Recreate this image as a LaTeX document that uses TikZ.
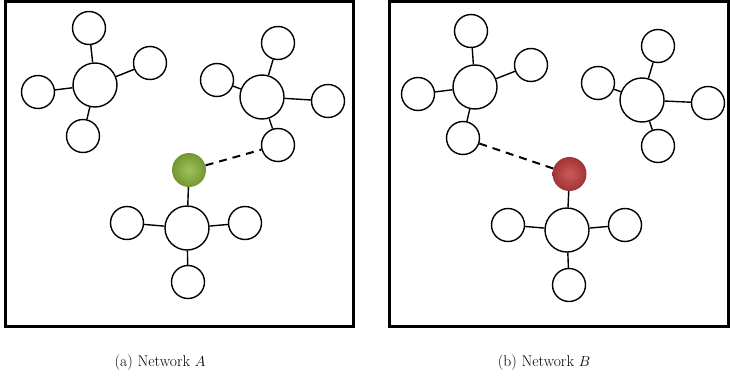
\documentclass[tikz,border=0pt]{standalone}
\usetikzlibrary{shadings}
\definecolor{greenball}{RGB}{160,195,90}
\definecolor{greendark}{RGB}{115,150,50}
\definecolor{redball}{RGB}{205,90,90}
\definecolor{reddark}{RGB}{160,52,52}
\begin{document}
\begin{tikzpicture}[x=1pt,y=-1pt,
  big/.style={circle,draw=black,line width=1.4pt,fill=white,minimum size=44pt,inner sep=0pt},
  small/.style={circle,draw=black,line width=1.4pt,fill=white,minimum size=33pt,inner sep=0pt},
  gball/.style={circle,minimum size=34pt,inner sep=0pt,inner color=greenball,outer color=greendark},
  rball/.style={circle,minimum size=34pt,inner sep=0pt,inner color=redball,outer color=reddark},
  link/.style={line width=1.4pt},
  dashlink/.style={line width=2pt,dash pattern=on 8pt off 6pt},
  panelframe/.style={draw=black,line width=3pt},
  captext/.style={font=\fontsize{15.6}{18}\selectfont}]
\useasboundingbox (0,0) rectangle (730,380);
% frames
\draw[panelframe] (5,1.5) rectangle (353.5,326.5);
\draw[panelframe] (389,1.5) rectangle (728.5,326.5);
% ---- Panel A ----
\node[big] (a1) at (95,85) {};
\node[small] (a1t) at (89,28) {};
\node[small] (a1r) at (150,63) {};
\node[small] (a1l) at (38,92) {};
\node[small] (a1b) at (83,136) {};
\node[big] (a2) at (262,97) {};
\node[small] (a2t) at (278,43) {};
\node[small] (a2l) at (217,80) {};
\node[small] (a2r) at (328,101) {};
\node[small] (a2b) at (278,145) {};
\node[gball] (ag) at (189,170) {};
\node[big] (a3) at (187,228) {};
\node[small] (a3l) at (127,223) {};
\node[small] (a3r) at (245,223) {};
\node[small] (a3b) at (188,282) {};
\foreach \s in {a1t,a1r,a1l,a1b} \draw[link] (a1) -- (\s);
\foreach \s in {a2t,a2r,a2l,a2b} \draw[link] (a2) -- (\s);
\foreach \s in {a3l,a3r,a3b,ag} \draw[link] (a3) -- (\s);
\draw[dashlink] (ag) -- (a2b);
% ---- Panel B ----
\node[big] (b1) at (475,87) {};
\node[small] (b1t) at (471,31) {};
\node[small] (b1r) at (531,65) {};
\node[small] (b1l) at (418,94) {};
\node[small] (b1b) at (463,138) {};
\node[big] (b2) at (642,100) {};
\node[small] (b2t) at (658,46) {};
\node[small] (b2l) at (598,83) {};
\node[small] (b2r) at (708,103) {};
\node[small] (b2b) at (658,146) {};
\node[rball] (br) at (569.5,174) {};
\node[big] (b3) at (567,230) {};
\node[small] (b3l) at (508,225) {};
\node[small] (b3r) at (625,225) {};
\node[small] (b3b) at (569,285) {};
\foreach \s in {b1t,b1r,b1l,b1b} \draw[link] (b1) -- (\s);
\foreach \s in {b2t,b2r,b2l,b2b} \draw[link] (b2) -- (\s);
\foreach \s in {b3l,b3r,b3b,br} \draw[link] (b3) -- (\s);
\draw[dashlink] (b1b) -- (br);
% captions
\node[captext] (capa) at (160,363) {(a) Network $A$};
\node[captext] (capb) at (544,363) {(b) Network $B$};
\end{tikzpicture}
\end{document}
